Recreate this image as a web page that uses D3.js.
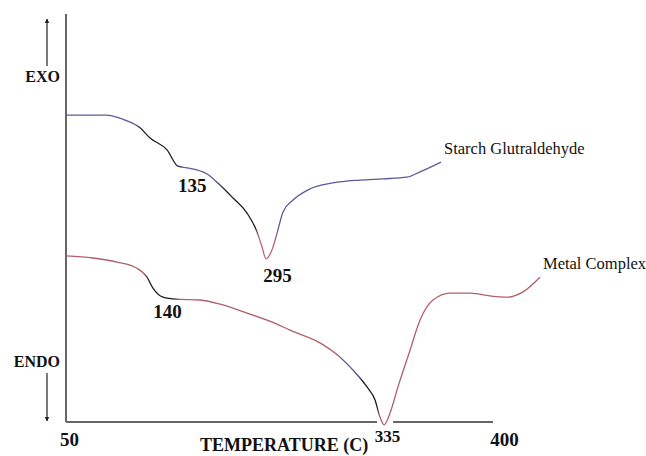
<!DOCTYPE html>
<html>
<head>
<meta charset="utf-8">
<script src="https://cdn.jsdelivr.net/npm/d3@7"></script>
<style>
  body { margin: 0; background: #fff; }
  svg { display: block; }
  text { font-family: "Liberation Serif", "Times New Roman", serif; fill: #111; }
</style>
</head>
<body>
<div class="chart"></div>
<script>
// DSC traces (temperature, relative heat flow 0-100)
var starchTemp = [50, 82, 100, 110.7, 118.9, 132.8, 141.8, 149.2, 165.6, 176.2, 186.9, 198.4, 206.6, 210.7, 213.9,
                  218.9, 223, 227.9, 236.1, 248.4, 268.9, 291, 309.8, 329.5, 340.2, 357.4];
var starchFlow = [75.2, 75.2, 73.8, 72.1, 69.6, 66.7, 62.7, 62.3, 60.8, 58.1, 54.9, 51.2, 46.6, 42.9, 40,
                  42.2, 46.3, 51.5, 54.4, 56.9, 58.6, 59.3, 59.6, 60, 61.3, 63.7];

var metalTemp = [50, 72.1, 91.8, 108.2, 116.4, 121.3, 129.5, 141, 159.8, 176.2, 198.4, 223, 233.6, 258.2, 274.6,
                 285.3, 296.7, 303.3, 307.4, 310.7, 315.6, 322.1, 332, 340.2, 350.8, 364.8, 381.2, 397.6, 411.5, 424.6, 438.5];
var metalFlow = [40.7, 40.2, 39.2, 37.7, 35.5, 32.8, 30.6, 30.1, 29.9, 28.9, 26.7, 24, 22.5, 19.4, 15.9,
                 12.7, 8.6, 5.4, 1.2, -0.7, 2.2, 8.6, 17.6, 25, 29.9, 31.6, 31.6, 30.9, 30.6, 31.9, 35.5];

var seriesNames = ['Starch Glutraldehyde', 'Metal Complex'];
var xTicks = [50, 400];
var peakLabels = ['135', '295', '140', '335'];
var peakTemp = [141.8, 223.4, 133.2, 313.5];
var peakFlow = [56.4, 34.3, 25.5, -4.9];

// colour changes along each trace (temperature, colour)
var starchBands = [[50, '#5a5a9c'], [106, '#5a5a9c'], [112, '#1e1e2a'], [140, '#1e1e2a'], [146, '#5a5a9c'],
                   [172, '#5a5a9c'], [182, '#1c1c1c'], [205, '#1c1c1c'], [208, '#b8646c'], [221, '#b8646c'],
                   [224, '#5a5a9c'], [360, '#5a5a9c']];
var metalBands = [[50, '#b06068'], [114, '#b06068'], [118, '#1c1c1c'], [138, '#1c1c1c'], [144, '#b06068'],
                  [272, '#b06068'], [276, '#4c4c90'], [290, '#4c4c90'], [293, '#1c1c1c'], [305, '#1c1c1c'],
                  [307, '#b06068'], [440, '#b06068']];

var width = 646, height = 456;
var margin = {left: 66, top: 14, bottom: 34};

var x = d3.scaleLinear().domain([50, 400]).range([margin.left, 493]);
var y = d3.scaleLinear().domain([0, 100]).range([height - margin.bottom, margin.top]);

var svg = d3.select('.chart').append('svg')
  .attr('width', width)
  .attr('height', height);

var defs = svg.append('defs');

// arrow head
defs.append('marker')
  .attr('id', 'head')
  .attr('viewBox', '0 0 10 10')
  .attr('refX', 9).attr('refY', 5)
  .attr('markerWidth', 4).attr('markerHeight', 5)
  .attr('orient', 'auto')
  .append('path')
  .attr('d', 'M0,0 L10,5 L0,10 z')
  .attr('fill', '#222');

// y axis
svg.append('line')
  .attr('x1', x(50)).attr('x2', x(50))
  .attr('y1', y(100)).attr('y2', y(0))
  .attr('stroke', '#666').attr('stroke-width', 2);

// x axis line, broken where the metal complex dip goes through it
var dipX = x(metalTemp[metalFlow.indexOf(d3.min(metalFlow))]);
svg.append('path')
  .attr('d', 'M' + x(50) + ',' + y(0) + 'H' + (dipX - 7) + 'M' + (dipX + 9) + ',' + y(0) + 'H' + x(400))
  .attr('stroke', '#666').attr('stroke-width', 2).attr('fill', 'none');

// tick labels 50 / 400
var tickShift = {50: 3, 400: 11};
var xAxis = svg.append('g')
  .attr('transform', 'translate(0,' + y(0) + ')')
  .call(d3.axisBottom(x).tickValues(xTicks).tickSize(0).tickPadding(8).tickFormat(d3.format('d')));
xAxis.select('.domain').remove();
xAxis.selectAll('text')
  .attr('dx', function(d) { return tickShift[d]; })
  .attr('dy', '0.85em')
  .style('font-family', '"Liberation Serif", serif')
  .style('font-weight', 'bold')
  .style('font-size', '19px')
  .attr('fill', '#111');

// axis title
svg.append('text')
  .attr('x', 200).attr('y', 451)
  .style('font-weight', 'bold').style('font-size', '18px')
  .text('TEMPERATURE (C)');

// EXO / ENDO with arrows
svg.append('text').attr('x', 60).attr('y', 82).attr('text-anchor', 'end')
  .style('font-weight', 'bold').style('font-size', '16px').text('EXO');
svg.append('line').attr('x1', 47).attr('x2', 47).attr('y1', 66).attr('y2', 19)
  .attr('stroke', '#222').attr('stroke-width', 1.2).attr('marker-end', 'url(#head)');
svg.append('text').attr('x', 60).attr('y', 367).attr('text-anchor', 'end')
  .style('font-weight', 'bold').style('font-size', '16px').text('ENDO');
svg.append('line').attr('x1', 47).attr('x2', 47).attr('y1', 373).attr('y2', 421)
  .attr('stroke', '#222').attr('stroke-width', 1.2).attr('marker-end', 'url(#head)');

// traces
var line = d3.line()
  .x(function(d) { return x(d[0]); })
  .y(function(d) { return y(d[1]); })
  .curve(d3.curveMonotoneX);

var series = [
  {name: seriesNames[0], data: d3.zip(starchTemp, starchFlow), bands: starchBands, id: 'g0'},
  {name: seriesNames[1], data: d3.zip(metalTemp, metalFlow), bands: metalBands, id: 'g1'}
];

series.forEach(function(s) {
  var lo = s.bands[0][0], hi = s.bands[s.bands.length - 1][0];
  defs.append('linearGradient')
    .attr('id', s.id)
    .attr('gradientUnits', 'userSpaceOnUse')
    .attr('x1', x(lo)).attr('x2', x(hi)).attr('y1', 0).attr('y2', 0)
    .selectAll('stop')
    .data(s.bands)
    .enter().append('stop')
    .attr('offset', function(b) { return (b[0] - lo) / (hi - lo); })
    .attr('stop-color', function(b) { return b[1]; });

  svg.append('path')
    .datum(s.data)
    .attr('d', line)
    .attr('fill', 'none')
    .attr('stroke', 'url(#' + s.id + ')')
    .attr('stroke-width', 1.3);

  var last = s.data[s.data.length - 1];
  svg.append('text')
    .attr('x', x(last[0]) + 3)
    .attr('y', y(last[1]) - 8)
    .style('font-size', '16.5px')
    .text(s.name);
});

// peak temperatures
svg.selectAll('.peak')
  .data(d3.range(peakLabels.length))
  .enter().append('text')
  .attr('class', 'peak')
  .attr('x', function(i) { return x(peakTemp[i]); })
  .attr('y', function(i) { return y(peakFlow[i]); })
  .attr('text-anchor', function(i) { return i === 0 ? 'start' : 'middle'; })
  .style('font-weight', 'bold')
  .style('font-size', function(i) { return i === 3 ? '17px' : '19px'; })
  .text(function(i) { return peakLabels[i]; });
</script>
</body>
</html>
